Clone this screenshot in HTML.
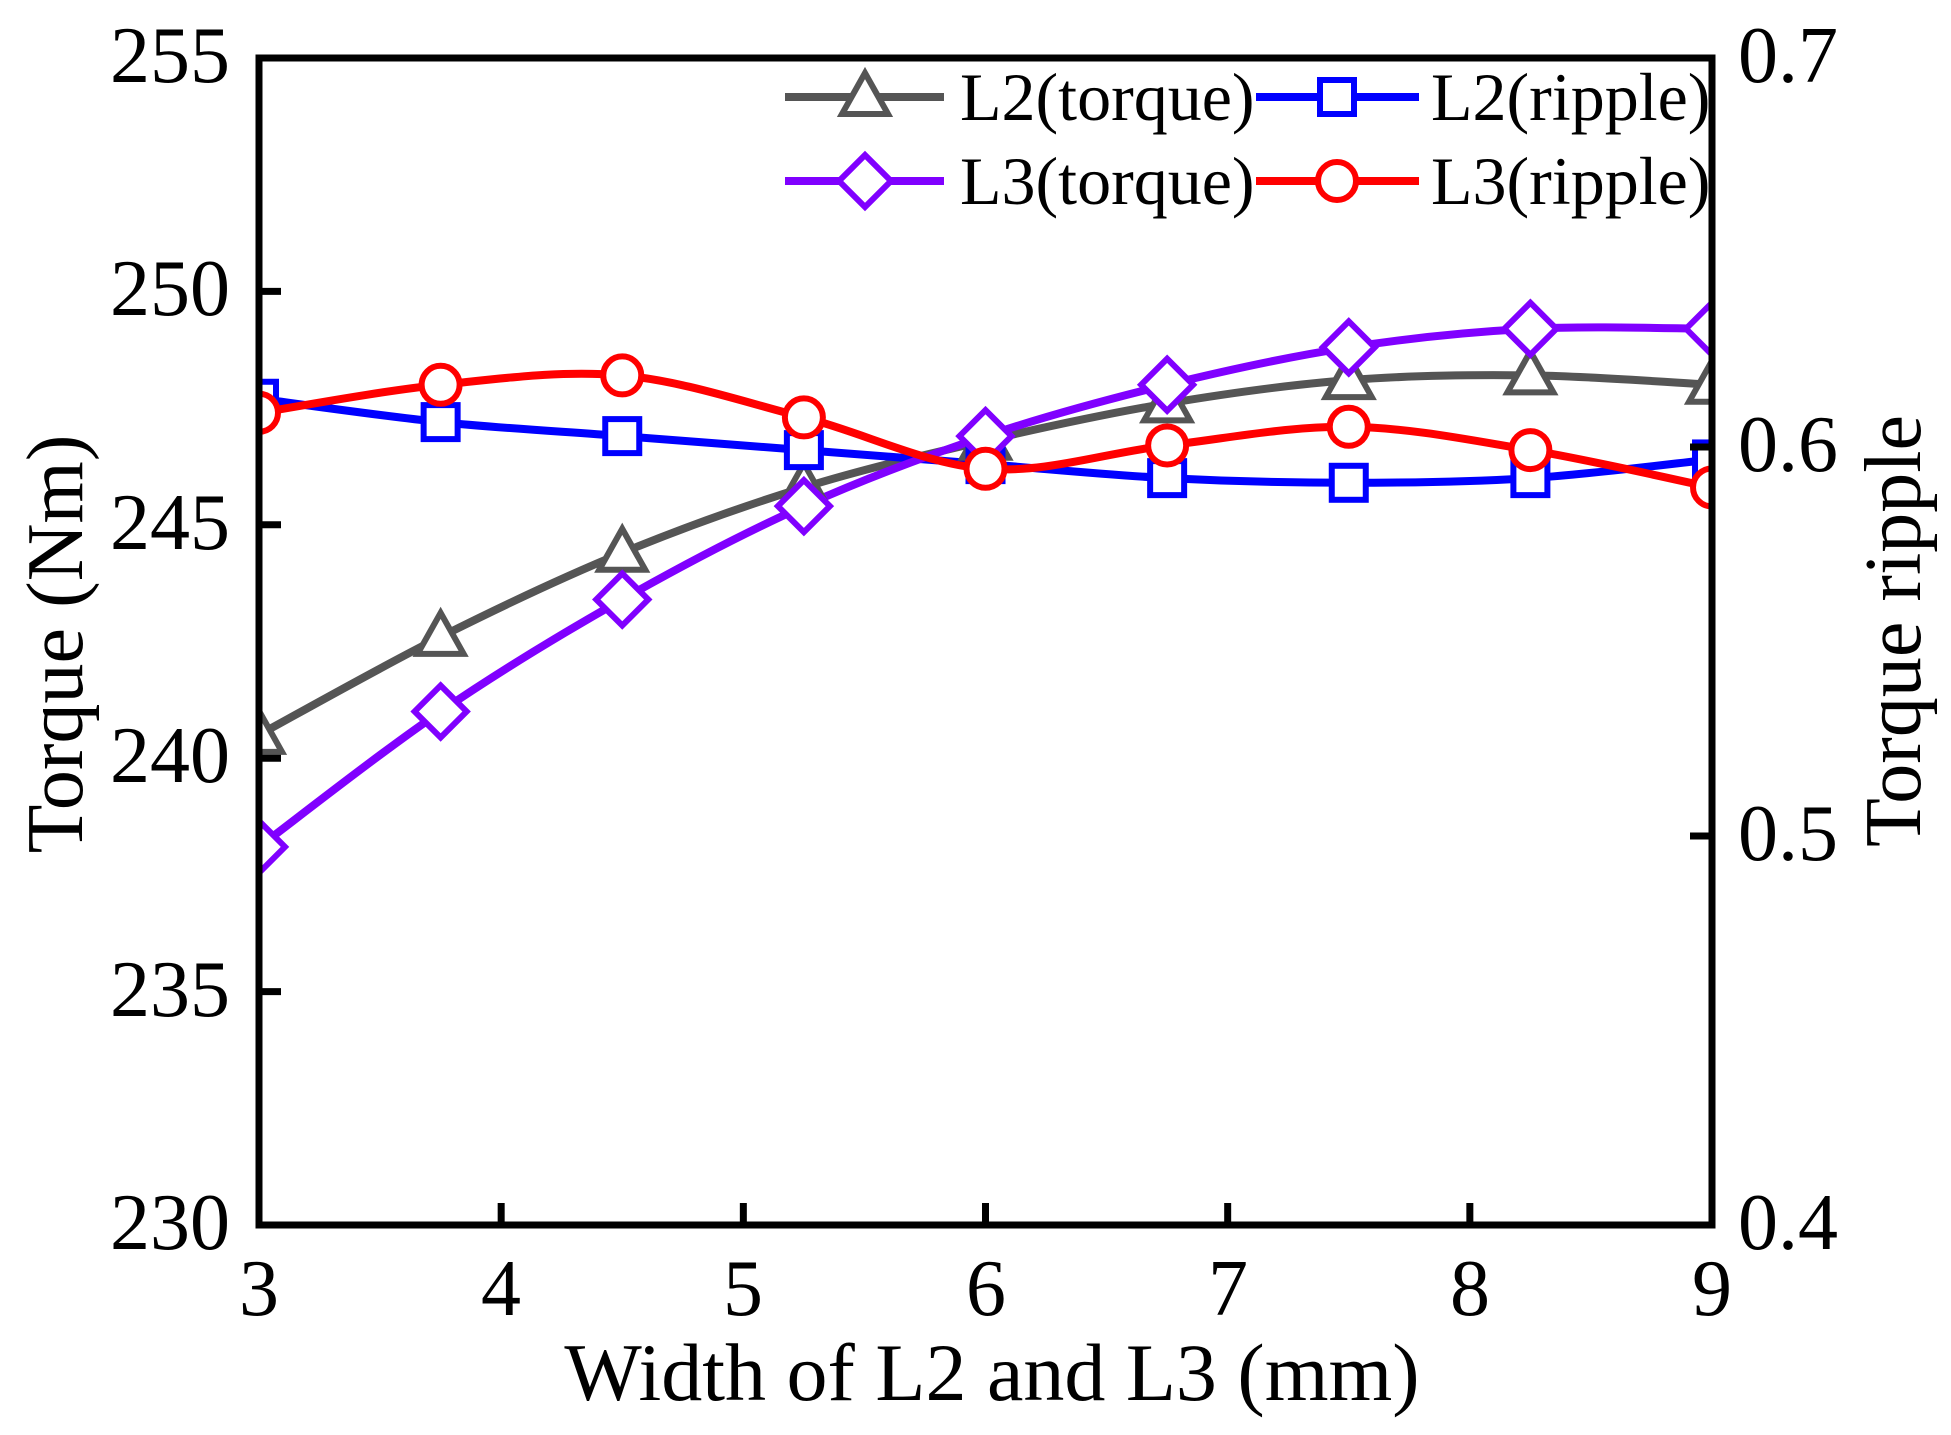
<!DOCTYPE html>
<html><head><meta charset="utf-8"><style>
html,body{margin:0;padding:0;background:#fff;}
svg text{font-family:"Liberation Serif",serif;fill:#000;}
</style></head><body>
<svg id="s" width="1951" height="1430" xmlns="http://www.w3.org/2000/svg">
<defs><clipPath id="c"><rect x="259" y="58" width="1453" height="1167"/></clipPath></defs>
<g id="plot" clip-path="url(#c)"></g>
<rect x="259" y="58" width="1453" height="1167" fill="none" stroke="#000" stroke-width="7"/>
<g id="ticks" stroke="#000" stroke-width="7"></g>
<g font-size="80">
<text x="230" y="82" text-anchor="end">255</text>
<text x="230" y="315" text-anchor="end">250</text>
<text x="230" y="549" text-anchor="end">245</text>
<text x="230" y="782" text-anchor="end">240</text>
<text x="230" y="1016" text-anchor="end">235</text>
<text x="230" y="1249" text-anchor="end">230</text>
<text x="1738" y="82">0.7</text>
<text x="1738" y="471">0.6</text>
<text x="1738" y="860">0.5</text>
<text x="1738" y="1249">0.4</text>
<text x="259" y="1315" text-anchor="middle">3</text>
<text x="501" y="1315" text-anchor="middle">4</text>
<text x="743" y="1315" text-anchor="middle">5</text>
<text x="986" y="1315" text-anchor="middle">6</text>
<text x="1228" y="1315" text-anchor="middle">7</text>
<text x="1470" y="1315" text-anchor="middle">8</text>
<text x="1712" y="1315" text-anchor="middle">9</text>
<text x="992" y="1400" text-anchor="middle" font-size="82">Width of L2 and L3 (mm)</text>
<text transform="translate(82,644) rotate(-90)" text-anchor="middle">Torque (Nm)</text>
<text transform="translate(1920,631) rotate(-90)" text-anchor="middle">Torque ripple</text>
</g>
<g id="leg"></g>
<g font-size="68">
<text x="960" y="120">L2(torque)</text>
<text x="1431" y="120">L2(ripple)</text>
<text x="960" y="204">L3(torque)</text>
<text x="1431" y="204">L3(ripple)</text>
</g>
</svg>
<script>
var NS="http://www.w3.org/2000/svg";
function X(v){return 259+(v-3)*242.17;}
function Y(t){return 1225-(t-230)*46.68;}
var xs=[3,3.75,4.5,5.25,6,6.75,7.5,8.25,9];
var S=[
 {c:"#555555",m:"tri",d:[240.5,242.6,244.4,245.8,246.8,247.6,248.1,248.2,248.0]},
 {c:"#0000ff",m:"sq",d:[247.7,247.2,246.9,246.6,246.3,246.0,245.9,246.0,246.4]},
 {c:"#8000ff",m:"dia",d:[238.1,241.0,243.4,245.4,246.9,248.0,248.8,249.2,249.2]},
 {c:"#ff0000",m:"circ",d:[247.4,248.0,248.2,247.3,246.2,246.7,247.1,246.6,245.8]}
];
function el(n,a,p){var e=document.createElementNS(NS,n);for(var k in a)e.setAttribute(k,a[k]);p.appendChild(e);return e;}
function marker(type,x,y,c,p){
 var a={fill:"#fff",stroke:c,"stroke-width":6};
 if(type=="tri"){a.points=(x)+","+(y-24)+" "+(x+23)+","+(y+17)+" "+(x-23)+","+(y+17);el("polygon",a,p);}
 else if(type=="sq"){a.x=x-17;a.y=y-17;a.width=34;a.height=34;el("rect",a,p);}
 else if(type=="dia"){a.points=(x)+","+(y-26)+" "+(x+26)+","+y+" "+x+","+(y+26)+" "+(x-26)+","+y;el("polygon",a,p);}
 else {a.cx=x;a.cy=y;a.r=19;el("circle",a,p);}
}
function path(pts){
 var d="M"+pts[0][0]+","+pts[0][1];
 for(var i=0;i<pts.length-1;i++){
  var p0=pts[Math.max(0,i-1)],p1=pts[i],p2=pts[i+1],p3=pts[Math.min(pts.length-1,i+2)];
  var c1=[p1[0]+(p2[0]-p0[0])/6,p1[1]+(p2[1]-p0[1])/6];
  var c2=[p2[0]-(p3[0]-p1[0])/6,p2[1]-(p3[1]-p1[1])/6];
  d+=" C"+c1+" "+c2+" "+p2;
 }
 return d;
}
var plot=document.getElementById("plot");
S.forEach(function(s){
 var pts=xs.map(function(x,i){return [X(x),Y(s.d[i])];});
 el("path",{d:path(pts),fill:"none",stroke:s.c,"stroke-width":8},plot);
});
S.forEach(function(s){xs.forEach(function(x,i){marker(s.m,X(x),Y(s.d[i]),s.c,plot);});});
var tk=document.getElementById("ticks");
[250,245,240,235].forEach(function(t){el("line",{x1:259,x2:281,y1:Y(t),y2:Y(t)},tk);});
[0.6,0.5].forEach(function(r){var y=1225-(r-0.4)/0.3*1167;el("line",{x1:1690,x2:1712,y1:y,y2:y},tk);});
[4,5,6,7,8].forEach(function(x){el("line",{x1:X(x),x2:X(x),y1:1225,y2:1203},tk);});
var lg=document.getElementById("leg");
var L=[[785,944,865,97,0],[1256,1419,1337,97,1],[785,944,865,181,2],[1256,1419,1337,181,3]];
L.forEach(function(l){var s=S[l[4]];el("line",{x1:l[0],x2:l[1],y1:l[3],y2:l[3],stroke:s.c,"stroke-width":8},lg);marker(s.m,l[2],l[3],s.c,lg);});
</script>
</body></html>
